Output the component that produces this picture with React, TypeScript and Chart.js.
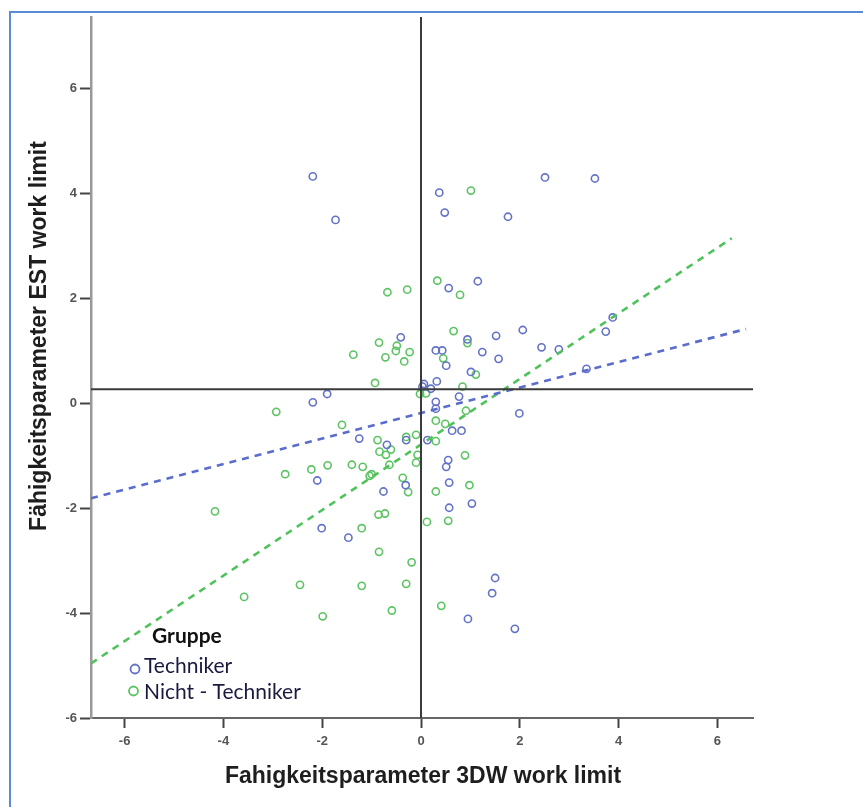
import React, { useEffect, useRef } from "react";
import { Chart, registerables } from "chart.js";

Chart.register(...registerables);

// ---- data ----
const seriesNames = ["Techniker", "Nicht - Techniker"];
const legendTitle = "Gruppe";
const xTitle = "Fahigkeitsparameter 3DW work limit";
const yTitle = "Fähigkeitsparameter EST work limit";

const techX = [
  -2.19, -1.73, 0.37, 0.48, 2.51, 3.52, 1.76, 0.56, 1.15, 3.88, 3.74, 2.06, 1.52, 0.94,
  2.44, 2.79, 0.30, 0.43, 1.24, 1.57, 0.51, -0.41, 1.01, 3.35, 0.06, 0.03, 0.20, 0.32,
  0.30, 0.30, 0.77, 1.99, 0.63, 0.82, -2.19, -1.90, -1.25, 0.13, -0.30, -0.69, 0.55, 0.51,
  -2.10, -0.31, -0.76, 0.57, 1.03, 0.57, -2.01, -1.47, 1.50, 1.44, 0.95, 1.90,
];
const techY = [
  4.33, 3.50, 4.02, 3.64, 4.31, 4.29, 3.56, 2.20, 2.33, 1.64, 1.37, 1.40, 1.29, 1.22,
  1.07, 1.03, 1.01, 1.01, 0.98, 0.85, 0.72, 1.26, 0.60, 0.66, 0.37, 0.32, 0.28, 0.42,
  0.03, -0.10, 0.13, -0.19, -0.52, -0.52, 0.02, 0.18, -0.67, -0.70, -0.70, -0.79, -1.08, -1.21,
  -1.47, -1.56, -1.68, -1.51, -1.91, -1.99, -2.38, -2.56, -3.33, -3.62, -4.11, -4.30,
];
const nichtX = [
  1.01, 0.33, 0.79, -0.68, -0.28, -1.37, -0.85, -0.93, -2.93, -1.60, 0.66, 0.94, 0.45,
  -0.34, -0.72, -0.51, -0.49, -0.23, 1.11, 0.84, -0.02, 0.10, 0.91, 0.30, 0.49, -0.10,
  0.30, -0.30, -0.88, -0.61, -0.84, -0.71, -0.07, -0.10, -0.64, -1.40, -1.18, -1.89,
  -2.22, -2.75, -1.04, -1.00, -0.37, -0.26, 0.30, 0.98, 0.89, 0.55, 0.12, -0.86, -0.73,
  -1.20, -4.17, -0.85, -0.19, -0.30, -0.59, 0.41, -2.45, -1.20, -3.58, -1.99,
];
const nichtY = [
  4.06, 2.34, 2.07, 2.12, 2.17, 0.93, 1.16, 0.39, -0.16, -0.41, 1.38, 1.15, 0.86,
  0.80, 0.88, 1.00, 1.10, 0.98, 0.55, 0.32, 0.18, 0.19, -0.14, -0.33, -0.39, -0.60,
  -0.72, -0.64, -0.70, -0.88, -0.92, -0.98, -0.98, -1.13, -1.17, -1.17, -1.21, -1.18,
  -1.26, -1.35, -1.38, -1.35, -1.42, -1.69, -1.68, -1.56, -0.99, -2.24, -2.26, -2.12, -2.10,
  -2.38, -2.06, -2.83, -3.03, -3.44, -3.95, -3.86, -3.46, -3.48, -3.69, -4.06,
];

// fit lines (end points)
const techFitX = [-6.68, 6.58];
const techFitY = [-1.81, 1.42];
const nichtFitX = [-6.68, 6.29];
const nichtFitY = [-4.96, 3.15];

// reference lines
const refX = 0;
const refY = 0.27;

const xTicks = [-6, -4, -2, 0, 2, 4, 6];
const yTicks = [-6, -4, -2, 0, 2, 4, 6];
const xMin = -6.68;
const xMax = 6.72;
const yMin = -6;
const yMax = 7.37;

// ---- styles ----
const techColor = "#6472c8";
const nichtColor = "#5cc462";
const techLine = "#5a6ccc";
const nichtLine = "#4fc25a";

const zip = (xs: number[], ys: number[]) => xs.map((x, i) => ({ x, y: ys[i] }));

const overlayPlugin = {
  id: "overlay",
  afterDraw(chart: any) {
    const ctx = chart.ctx as CanvasRenderingContext2D;
    ctx.save();
    // axis titles
    ctx.fillStyle = "#1e1e1e";
    ctx.font = 'bold 23px "Liberation Sans", Arial, sans-serif';
    ctx.textAlign = "center";
    ctx.textBaseline = "middle";
    ctx.fillText(xTitle, 423, 777);
    ctx.save();
    ctx.translate(40, 336);
    ctx.rotate(-Math.PI / 2);
    ctx.fillText(yTitle, 0, 0);
    ctx.restore();

    // legend
    ctx.textAlign = "left";
    ctx.textBaseline = "alphabetic";
    ctx.fillStyle = "#111";
    ctx.font = 'bold 21px Lato, "Open Sans", sans-serif';
    ctx.fillText(legendTitle, 152, 643);
    ctx.font = '21px Lato, "Open Sans", sans-serif';
    ctx.fillStyle = "#1a1a40";
    ctx.fillText(seriesNames[0], 144, 673);
    ctx.fillText(seriesNames[1], 144, 699);
    ctx.lineWidth = 1.8;
    ctx.strokeStyle = techColor;
    ctx.beginPath();
    ctx.arc(135, 669, 4.5, 0, Math.PI * 2);
    ctx.stroke();
    ctx.strokeStyle = nichtColor;
    ctx.beginPath();
    ctx.arc(133.5, 691, 4.5, 0, Math.PI * 2);
    ctx.stroke();
    ctx.restore();
  },
};

export default function App() {
  const canvasRef = useRef<HTMLCanvasElement | null>(null);

  useEffect(() => {
    if (!canvasRef.current) return;
    const chart = new Chart(canvasRef.current, {
      type: "scatter",
      data: {
        datasets: [
          {
            label: "refV",
            data: [
              { x: refX, y: yMin },
              { x: refX, y: yMax },
            ],
            showLine: true,
            borderColor: "#3a3a3a",
            borderWidth: 2,
            pointRadius: 0,
          },
          {
            label: "refH",
            data: [
              { x: xMin, y: refY },
              { x: xMax, y: refY },
            ],
            showLine: true,
            borderColor: "#3a3a3a",
            borderWidth: 2,
            pointRadius: 0,
          },
          {
            label: "fitTech",
            data: zip(techFitX, techFitY),
            showLine: true,
            borderColor: techLine,
            borderWidth: 2.6,
            borderDash: [7, 6],
            pointRadius: 0,
          },
          {
            label: "fitNicht",
            data: zip(nichtFitX, nichtFitY),
            showLine: true,
            borderColor: nichtLine,
            borderWidth: 2.6,
            borderDash: [7, 6],
            pointRadius: 0,
          },
          {
            label: seriesNames[0],
            data: zip(techX, techY),
            pointRadius: 3.6,
            pointBorderWidth: 1.6,
            borderColor: techColor,
            pointBorderColor: techColor,
            backgroundColor: "rgba(0,0,0,0)",
            pointBackgroundColor: "rgba(0,0,0,0)",
          },
          {
            label: seriesNames[1],
            data: zip(nichtX, nichtY),
            pointRadius: 3.6,
            pointBorderWidth: 1.6,
            borderColor: nichtColor,
            pointBorderColor: nichtColor,
            backgroundColor: "rgba(0,0,0,0)",
            pointBackgroundColor: "rgba(0,0,0,0)",
          },
        ],
      },
      options: {
        responsive: false,
        animation: false,
        devicePixelRatio: 1,
        layout: { padding: { top: 17, right: 110, left: 0, bottom: 0 } },
        plugins: { legend: { display: false }, tooltip: { enabled: false } },
        scales: {
          x: {
            type: "linear",
            min: xMin,
            max: xMax,
            afterBuildTicks: (scale: any) => {
              scale.ticks = xTicks.map((v) => ({ value: v }));
            },
            afterFit: (scale: any) => {
              scale.height = 89;
            },
            ticks: {
              callback: (v: any) => String(v),
              color: "#555",
              font: { family: "Arial, 'Liberation Sans'", size: 13, weight: "bold" },
              padding: 6,
              maxRotation: 0,
            },
            grid: {
              display: true,
              drawOnChartArea: false,
              drawTicks: true,
              tickLength: 10,
              tickWidth: 2,
              tickColor: "#444",
            },
            border: { display: true, color: "#666", width: 2 },
          },
          y: {
            type: "linear",
            min: yMin,
            max: yMax,
            afterBuildTicks: (scale: any) => {
              scale.ticks = yTicks.map((v) => ({ value: v }));
            },
            afterFit: (scale: any) => {
              scale.width = 91;
            },
            ticks: {
              callback: (v: any) => String(v),
              color: "#555",
              font: { family: "Arial, 'Liberation Sans'", size: 13, weight: "bold" },
              padding: 3,
            },
            grid: {
              display: true,
              drawOnChartArea: false,
              drawTicks: true,
              tickLength: 11,
              tickWidth: 2,
              tickColor: "#444",
            },
            border: { display: true, color: "#999", width: 2.5 },
          },
        },
      },
      plugins: [overlayPlugin],
    });
    return () => chart.destroy();
  }, []);

  return (
    <div
      style={{
        position: "fixed",
        left: 0,
        top: 0,
        width: 863,
        height: 807,
        overflow: "hidden",
        background: "#fff",
      }}
    >
      <div
        style={{
          position: "absolute",
          left: 9,
          top: 11,
          width: 900,
          height: 900,
          border: "2px solid #5b8bd2",
        }}
      />
      <canvas
        ref={canvasRef}
        width={863}
        height={807}
        style={{ position: "absolute", left: 0, top: 0 }}
      />
    </div>
  );
}
